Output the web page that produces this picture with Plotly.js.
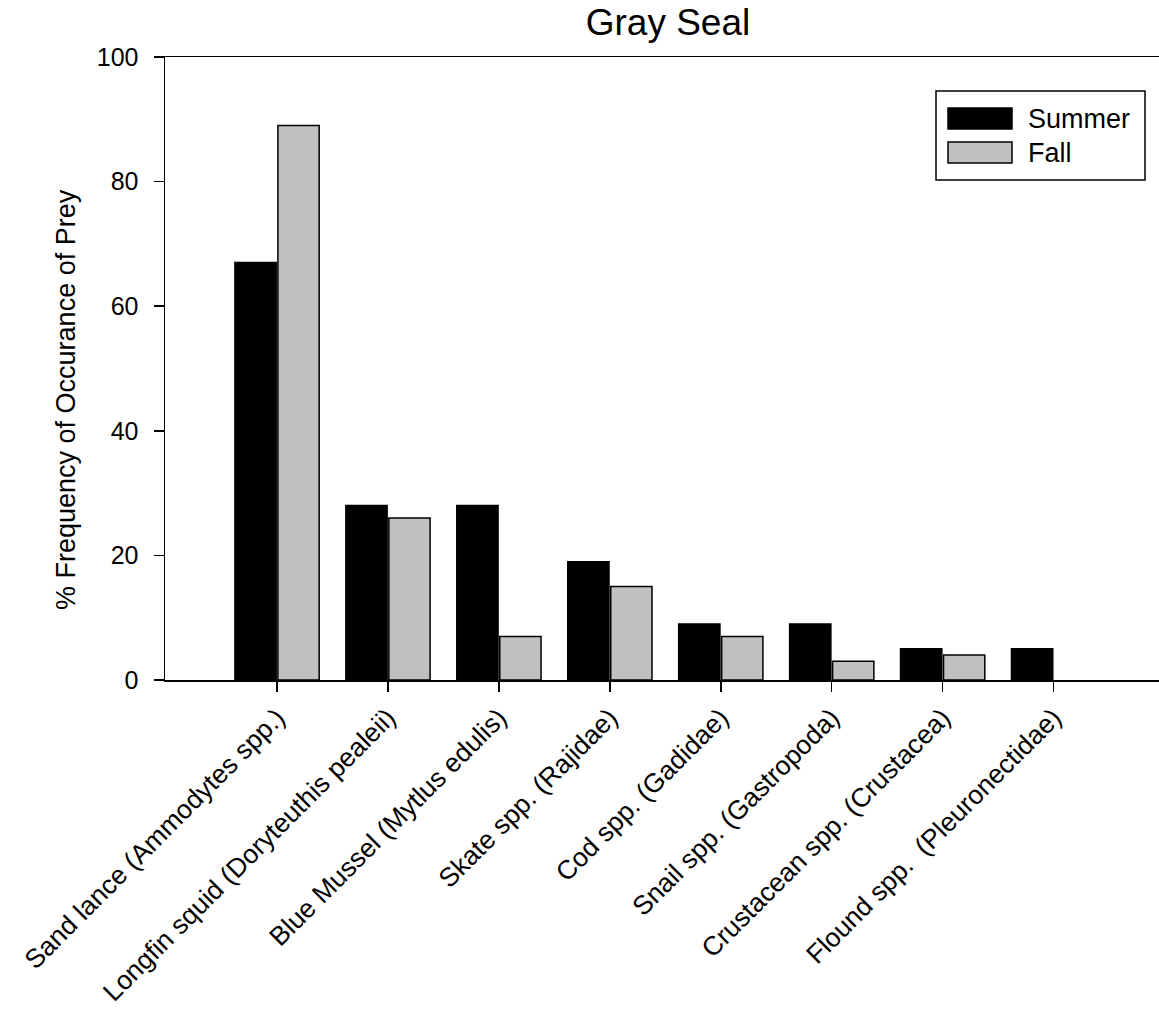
<!DOCTYPE html>
<html>
<head>
<meta charset="utf-8">
<script src="https://cdn.plot.ly/plotly-3.0.1.min.js"></script>
<style>html,body{margin:0;padding:0;background:#fff;}</style>
</head>
<body>
<div id="chart" style="width:1159px;height:1009px;"></div>
<script>
const categories = [
  "Sand lance (Ammodytes spp.)",
  "Longfin squid (Doryteuthis pealeii)",
  "Blue Mussel (Mytlus edulis)",
  "Skate spp. (Rajidae)",
  "Cod spp. (Gadidae)",
  "Snail spp. (Gastropoda)",
  "Crustacean spp. (Crustacea)",
  "Flound spp.  (Pleuronectidae)"
];
const seriesNames = ["Summer", "Fall"];
const summerValues = [67, 28, 28, 19, 9, 9, 5, 5];
const fallValues = [89, 26, 7, 15, 7, 3, 4, 0];
const yTickValues = [0, 20, 40, 60, 80, 100];
const titleText = "Gray Seal";
const yTitleText = "% Frequency of Occurance of Prey";

const FONT = "Arial, 'Liberation Sans', sans-serif";
const colors = ["#000000", "#c0c0c0"];
const outline = vals => vals.map(v => (v > 0 ? 1.5 : 0));

const traces = [
  {type: "bar", name: seriesNames[0], x: categories, y: summerValues,
   marker: {color: colors[0], line: {color: "#000", width: outline(summerValues)}}, showlegend: false},
  {type: "bar", name: seriesNames[1], x: categories, y: fallValues,
   marker: {color: colors[1], line: {color: "#000", width: outline(fallValues)}}, showlegend: false}
];

// plot area in pixels: left 165, right 1159, top 57, bottom 680
const L = 165, R = 1159, T = 57, B = 680;
const px = v => (v - L) / (R - L);
const py = v => (B - v) / (B - T);

const shapes = [
  {type: "rect", xref: "paper", yref: "paper", x0: px(936), x1: px(1145), y0: py(180), y1: py(91),
   line: {color: "#000", width: 1.5}, fillcolor: "rgba(255,255,255,1)"},
  {type: "rect", xref: "paper", yref: "paper", x0: px(948), x1: px(1012), y0: py(129), y1: py(108),
   line: {color: "#000", width: 1.5}, fillcolor: colors[0]},
  {type: "rect", xref: "paper", yref: "paper", x0: px(948), x1: px(1012), y0: py(163), y1: py(142),
   line: {color: "#000", width: 1.5}, fillcolor: colors[1]}
];
const annotations = [
  {xref: "paper", yref: "paper", x: px(1026), y: py(118.5), text: seriesNames[0], showarrow: false,
   xanchor: "left", yanchor: "middle", font: {family: FONT, size: 27, color: "#000"}},
  {xref: "paper", yref: "paper", x: px(1026), y: py(152.5), text: seriesNames[1], showarrow: false,
   xanchor: "left", yanchor: "middle", font: {family: FONT, size: 27, color: "#000"}},
  {xref: "paper", yref: "paper", x: px(66), y: py(400), text: yTitleText, showarrow: false,
   textangle: -90, xanchor: "center", yanchor: "middle", font: {family: FONT, size: 27, color: "#000"}}
];

const layout = {
  width: 1159, height: 1009,
  margin: {l: L, r: 1159 - R, t: T, b: 1009 - B, pad: 0},
  paper_bgcolor: "#fff", plot_bgcolor: "#fff",
  font: {family: FONT, color: "#000"},
  title: {text: titleText, font: {family: FONT, size: 37, color: "#000"},
          x: 668 / 1159, xref: "container", xanchor: "center",
          y: 1 - 22 / 1009, yref: "container", yanchor: "middle"},
  barmode: "group", bargap: 0.225, bargroupgap: 0.04,
  xaxis: {
    type: "category", range: [-1.01, 7.95], showline: true, linecolor: "#000", linewidth: 1.5,
    mirror: true, ticks: "outside", ticklen: 10, tickwidth: 1.5, tickcolor: "#000",
    tickangle: -45, tickfont: {family: FONT, size: 26.5, color: "#000"},
    showgrid: false, zeroline: false, automargin: false
  },
  yaxis: {
    range: [0, 100], tickvals: yTickValues, showline: true, linecolor: "#000", linewidth: 1.5,
    ticks: "outside", ticklen: 10, tickwidth: 1.5, tickcolor: "#000",
    ticklabelstandoff: 10,
    tickfont: {family: FONT, size: 25, color: "#000"},
    showgrid: false, zeroline: false, automargin: false
  },
  shapes: shapes,
  annotations: annotations,
  showlegend: false
};

Plotly.newPlot("chart", traces, layout, {displayModeBar: false, staticPlot: true});
</script>
</body>
</html>
